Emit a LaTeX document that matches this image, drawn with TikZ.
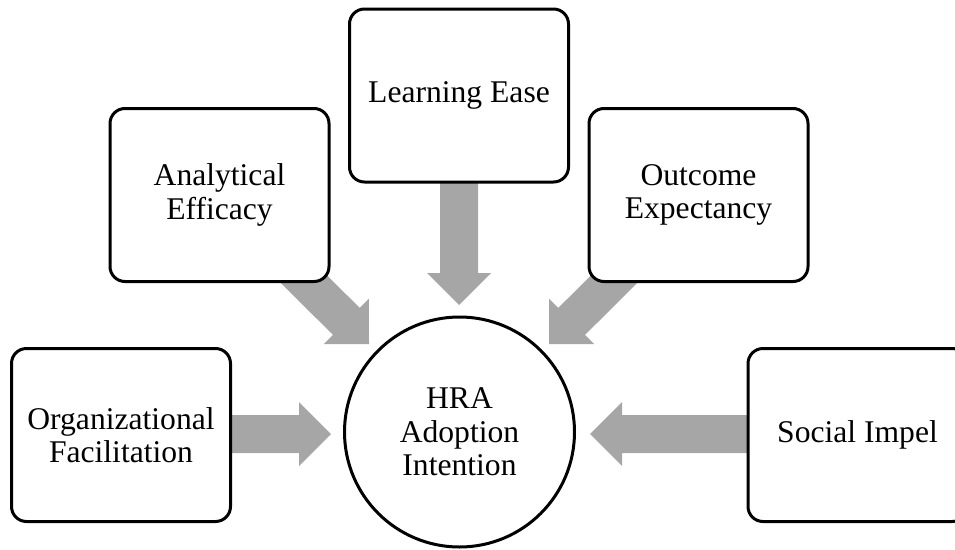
\documentclass[tikz,border=0pt]{standalone}
\usepackage{fontspec}
\setmainfont{Liberation Serif}
\usetikzlibrary{calc,backgrounds}
\definecolor{arrowgray}{HTML}{A6A6A6}
% block arrow from point #1 (start) to point #2 (tip)
\newcommand{\flowarrow}[2]{%
  \coordinate (fS) at (#1);
  \coordinate (fT) at (#2);
  \coordinate (fH) at ($(fT)!32pt!(fS)$);
  \fill[flowfill] ($(fS)!19pt!90:(fT)$) -- ($(fH)!19pt!-90:(fS)$)
    -- ($(fH)!32pt!-90:(fS)$) -- (fT) -- ($(fH)!32pt!90:(fS)$)
    -- ($(fH)!19pt!90:(fS)$) -- ($(fS)!19pt!-90:(fT)$) -- cycle;
}
\begin{document}
\begin{tikzpicture}[x=1pt,y=-1pt,
  box/.style={draw=black, line width=3pt, rounded corners=15pt, fill=white,
    minimum width=219pt, minimum height=173pt, align=center, inner sep=0pt,
    font=\fontsize{31.6}{33.5}\selectfont},
  hub/.style={draw=black, line width=3pt, circle, fill=white, minimum size=230pt,
    align=center, inner sep=0pt, font=\fontsize{31.6}{33.5}\selectfont},
  flowfill/.style={fill=arrowgray}]
\useasboundingbox (0,0) rectangle (955,549);
\clip (0,0) rectangle (955,549);
\node[box] (org) at (121,435) {Organizational\\Facilitation};
\node[box] (ana) at (219.5,195) {Analytical\\Efficacy};
\node[box] (learn) at (459,95.5) {Learning Ease};
\node[box] (out) at (698.5,195) {Outcome\\Expectancy};
\node[box] (soc) at (857.5,435) {Social Impel};
\node[hub] (hra) at (459.5,432) {HRA\\Adoption\\Intention};
\coordinate (tOrg) at (331,434);
\coordinate (tAna) at (369,344);
\coordinate (tLearn) at (459,305);
\coordinate (tOut) at (549,344);
\coordinate (tSoc) at (590,434);
\coordinate (sOrg) at (121,434);
\coordinate (sSoc) at (857.5,434);
\begin{scope}[on background layer]
\flowarrow{sOrg}{tOrg}
\flowarrow{ana.center}{tAna}
\flowarrow{learn.center}{tLearn}
\flowarrow{out.center}{tOut}
\flowarrow{sSoc}{tSoc}
\end{scope}
\end{tikzpicture}
\end{document}
